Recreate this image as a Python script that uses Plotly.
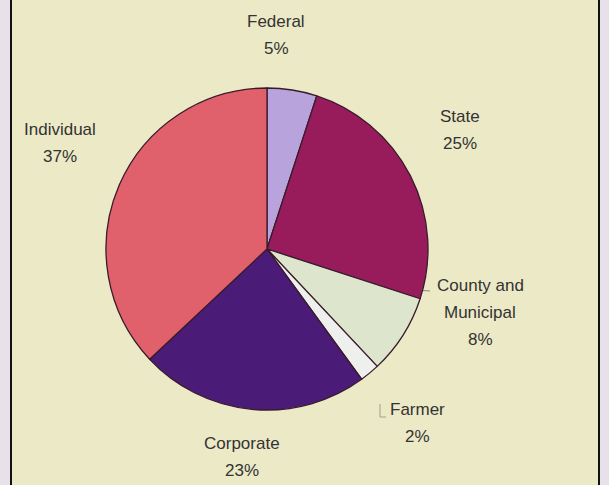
import plotly.graph_objects as go

labels = ["Federal", "State", "County and<br>Municipal", "Farmer", "Corporate", "Individual"]
values = [5, 25, 8, 2, 23, 37]
colors = ["#b9a3dc", "#981c5c", "#dde6cc", "#eef0ee", "#4a1c78", "#e0616c"]

# label anchor positions (pixels in 609x485 image, y from top) for the first line
label_pos = [(276, 22), (460, 116), (480, 285), (417, 409), (242, 443), (60, 130)]

W, H = 609, 485
LINE = 27

fig = go.Figure()
cx, cy, r = 267, 249, 161
fig.add_trace(go.Pie(
    labels=labels, values=values, sort=False, direction="clockwise", rotation=0,
    marker=dict(colors=colors, line=dict(color="#3a1b2c", width=1.3)),
    textinfo="none", hoverinfo="label+percent", showlegend=False,
    domain=dict(x=[(cx - r) / W, (cx + r) / W], y=[(H - cy - r) / H, (H - cy + r) / H]),
))

ann = []
for lab, v, (x, y) in zip(labels, values, label_pos):
    lines = lab.split("<br>") + [f"{v}%"]
    for i, t in enumerate(lines):
        ann.append(dict(x=x / W, y=1 - (y + i * LINE) / H, xref="paper", yref="paper",
                        text=t, showarrow=False, xanchor="center", yanchor="middle",
                        font=dict(family="Liberation Sans, Arial, sans-serif", size=17, color="#333333")))

shapes = [
    dict(type="rect", xref="paper", yref="paper", x0=11 / W, x1=599 / W, y0=-0.01, y1=1.01,
         fillcolor="#ece9c6", line=dict(width=0), layer="below"),
    dict(type="line", xref="paper", yref="paper", x0=11 / W, x1=11 / W, y0=-0.01, y1=1.01,
         line=dict(color="#111111", width=2), layer="below"),
    dict(type="line", xref="paper", yref="paper", x0=599 / W, x1=599 / W, y0=-0.01, y1=1.01,
         line=dict(color="#111111", width=2), layer="below"),
    # faint leader lines
    dict(type="path", xref="paper", yref="paper",
         path=f"M {416/W} {1-287/H} Q {423/W} {1-292/H} {430/W} {1-291/H}",
         line=dict(color="#8a8a7a", width=1), layer="below"),
    dict(type="path", xref="paper", yref="paper",
         path=f"M {380/W} {1-404/H} L {380/W} {1-417/H} L {386/W} {1-417/H}",
         line=dict(color="#a0a090", width=1), layer="below"),
]

fig.update_layout(width=W, height=H, margin=dict(l=0, r=0, t=0, b=0),
                  paper_bgcolor="#e9e1e9", plot_bgcolor="#ece9c6",
                  annotations=ann, shapes=shapes)
fig.write_html("out.html", config={"displayModeBar": False},
               post_script="document.body.style.margin='0px';document.body.style.overflow='hidden';")
